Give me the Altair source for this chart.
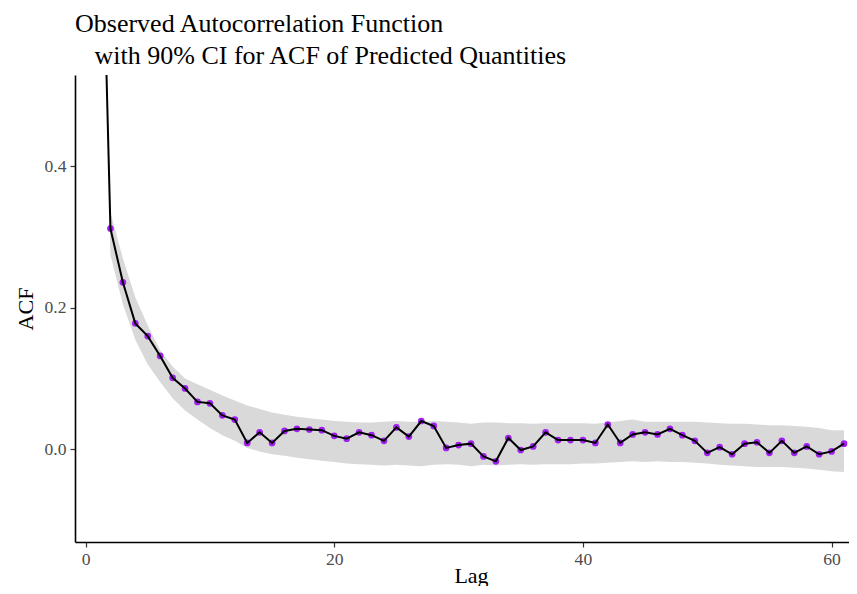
import altair as alt
import pandas as pd

lags = list(range(1, 62))
acf = [1.0, 0.312, 0.236, 0.178, 0.160, 0.132, 0.101, 0.086, 0.067, 0.065,
       0.048, 0.042, 0.009, 0.024, 0.009, 0.026, 0.029, 0.028, 0.027, 0.019,
       0.015, 0.024, 0.020, 0.012, 0.031, 0.018, 0.040, 0.033, 0.002, 0.006,
       0.008, -0.010, -0.017, 0.016, -0.001, 0.004, 0.024, 0.013, 0.013, 0.013,
       0.009, 0.035, 0.009, 0.021, 0.024, 0.021, 0.029, 0.020, 0.012, -0.005,
       0.003, -0.007, 0.008, 0.010, -0.005, 0.012, -0.005, 0.004, -0.007, -0.003,
       0.008]
lower = [1.0, 0.275, 0.205, 0.155, 0.120, 0.095, 0.072, 0.055, 0.042, 0.030,
         0.020, 0.012, 0.002, -0.003, -0.007, -0.009, -0.012, -0.014, -0.016, -0.018,
         -0.020, -0.021, -0.022, -0.023, -0.022, -0.023, -0.024, -0.022, -0.021, -0.022,
         -0.024, -0.022, -0.023, -0.022, -0.021, -0.022, -0.021, -0.021, -0.021, -0.020,
         -0.020, -0.019, -0.018, -0.017, -0.018, -0.017, -0.018, -0.018, -0.019, -0.020,
         -0.022, -0.023, -0.024, -0.025, -0.025, -0.025, -0.026, -0.027, -0.029, -0.031,
         -0.032]
upper = [1.0, 0.335, 0.270, 0.215, 0.175, 0.140, 0.117, 0.100, 0.092, 0.084,
         0.076, 0.069, 0.062, 0.057, 0.052, 0.049, 0.046, 0.044, 0.042, 0.040,
         0.039, 0.038, 0.038, 0.039, 0.040, 0.039, 0.039, 0.040, 0.039, 0.038,
         0.036, 0.038, 0.038, 0.037, 0.037, 0.036, 0.037, 0.037, 0.037, 0.037,
         0.036, 0.038, 0.040, 0.042, 0.039, 0.039, 0.039, 0.039, 0.039, 0.038,
         0.037, 0.036, 0.036, 0.035, 0.034, 0.034, 0.033, 0.032, 0.030, 0.027,
         0.027]
x_ticks = [0, 20, 40, 60]
y_ticks = [0.0, 0.2, 0.4]
title_lines = ["Observed Autocorrelation Function",
               "\u200b\u00a0\u00a0\u00a0with 90% CI for ACF of Predicted Quantities"]

df = pd.DataFrame({"lag": lags, "acf": acf, "lower": lower, "upper": upper})

FONT = "Liberation Serif"
xscale = alt.Scale(domain=[-0.85, 61.4], nice=False, zero=False)
yscale = alt.Scale(domain=[-0.131, 0.529], nice=False, zero=False)

axis_common = dict(
    grid=False, domainColor="black", domainWidth=1.6, tickColor="#333333",
    tickWidth=1.2, tickSize=5, labelFont=FONT, labelFontSize=17.6,
    labelColor="#4d4d4d", titleFont=FONT, titleFontSize=22,
    titleFontWeight="normal", titleColor="black", labelFlush=False,
)
xaxis = alt.Axis(values=x_ticks, format="d", title="Lag", labelPadding=3,
                 titleX=396, titleY=40, titleBaseline="alphabetic",
                 titleAlign="center", **axis_common)
yaxis = alt.Axis(values=y_ticks, format=".1f", title="ACF", labelPadding=4,
                 titleX=-43, titleY=233.5, titleBaseline="alphabetic",
                 titleAlign="center", titleAngle=270, **axis_common)

X = alt.X("lag:Q", scale=xscale, axis=xaxis)

base = alt.Chart(df)
ribbon = base.mark_area(color="#d9d9d9", opacity=1, clip=True).encode(
    x=X,
    y=alt.Y("lower:Q", scale=yscale, axis=yaxis),
    y2="upper:Q",
)
points = base.transform_filter("datum.lag >= 2").mark_circle(
    color="#A020F0", size=45, opacity=1, clip=True
).encode(x=X, y=alt.Y("acf:Q", scale=yscale, axis=yaxis))
line = base.mark_line(color="black", strokeWidth=2, clip=True).encode(
    x=X, y=alt.Y("acf:Q", scale=yscale, axis=yaxis)
)

chart = alt.layer(ribbon, points, line).properties(
    width=774,
    height=467,
    title=alt.Title(
        text=title_lines,
        anchor="start", frame="group", font=FONT, fontSize=26,
        fontWeight="normal", color="black", lineHeight=32, offset=6,
    ),
    padding={"left": 67, "top": 67, "right": 0, "bottom": 44},
    autosize=alt.AutoSizeParams(type="none"),
).configure_view(stroke=None)

chart.save("out.html", embed_options={"renderer": "svg", "actions": False})
